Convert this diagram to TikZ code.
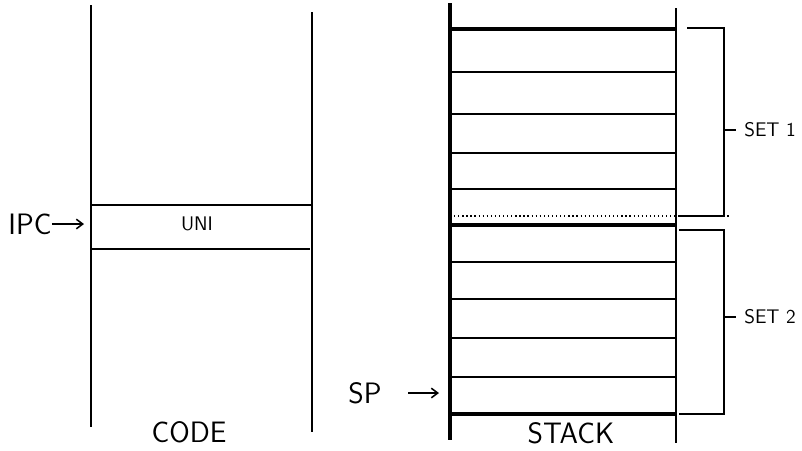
\documentclass[tikz,border=0pt]{standalone}
\usepackage{tikz}
\usetikzlibrary{arrows.meta,positioning}
\tikzset{
  oszlop/.style={line width=1.3pt},
  rekesz/.style={line width=1.2pt},
  vastag/.style={line width=2.8pt},
  pontozott/.style={line width=0.9pt,dotted},
  zarojel/.style={line width=1.2pt},
  nyil/.style={-{Straight Barb[length=1.6mm,width=2.4mm]},line width=1.1pt},
  nagyfelirat/.style={font=\sffamily\fontsize{21}{23}\selectfont,inner sep=0pt},
  kisfelirat/.style={font=\sffamily\fontsize{14}{16}\selectfont,inner sep=0pt},
}
\begin{document}
\begin{tikzpicture}[x=0.025cm,y=-0.025cm]
  \useasboundingbox (0,0) rectangle (802,450);
  % CODE oszlop
  \draw[oszlop] (91,5) -- (91,427);
  \draw[oszlop] (312,12) -- (312,432);
  \draw[rekesz,line width=1.6pt] (91,205) -- (312,205);
  \draw[rekesz,line width=1.6pt] (91,249) -- (310,249);
  \node[kisfelirat] (uni) at (197,224) {UNI};
  \node[nagyfelirat] (ipc) at (30,224) {IPC};
  \coordinate (ipcveg) at (84,224);
  \draw[nyil] (ipc) -- (ipcveg);
  \node[nagyfelirat] (code) at (189,432) {CODE};
  % STACK oszlop
  \draw[vastag] (450,3) -- (450,440);
  \draw[oszlop] (676,8) -- (676,443);
  \foreach \y in {72,114,153,189,262,299,338,377}
    \draw[rekesz] (450,\y) -- (676,\y);
  \foreach \y in {29,225,414}
    \draw[vastag] (450,\y) -- (676,\y);
  \draw[pontozott] (450,216) -- (730,216);
  \node[nagyfelirat] (stack) at (571,433) {STACK};
  \node[nagyfelirat] (sp) at (365,393) {SP};
  \coordinate (spkezd) at (408,393);
  \coordinate (spveg) at (439,393);
  \draw[nyil] (spkezd) -- (spveg);
  % zarojelek
  \draw[zarojel] (687,28) -| (724,216) -- (679,216);
  \draw[zarojel] (679,230) -| (724,414) -- (679,414);
  \node[kisfelirat,anchor=west] (set1) at (744,130) {SET 1};
  \node[kisfelirat,anchor=west] (set2) at (744,317) {SET 2};
  \coordinate (z1) at (724,130);
  \coordinate (z2) at (724,317);
  \coordinate (z1v) at (736,130);
  \coordinate (z2v) at (736,317);
  \draw[zarojel] (z1) -- (z1v);
  \draw[zarojel] (z2) -- (z2v);
\end{tikzpicture}
\end{document}
